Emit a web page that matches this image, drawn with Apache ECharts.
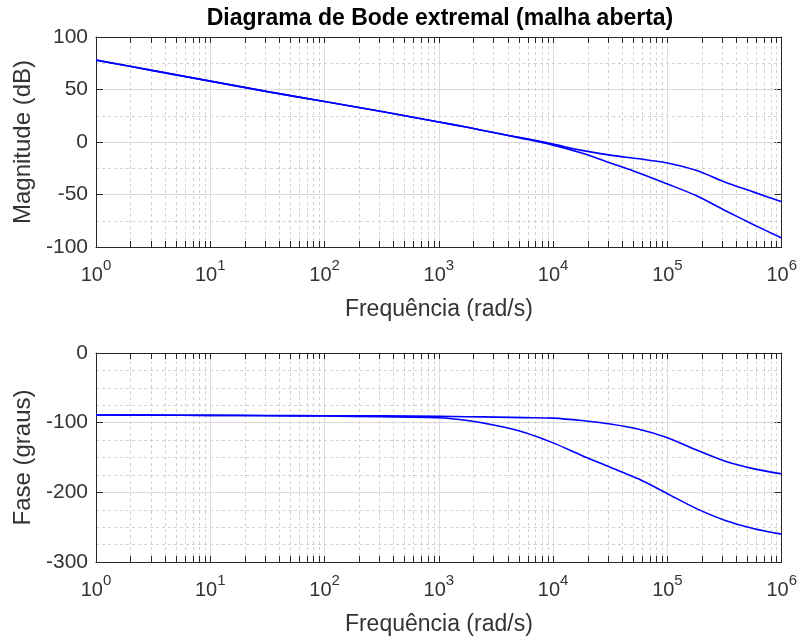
<!DOCTYPE html>
<html>
<head>
<meta charset="utf-8">
<title>Diagrama de Bode extremal</title>
<script src="https://cdn.jsdelivr.net/npm/echarts@6/dist/echarts.min.js"></script>
<style>
  html, body { margin: 0; padding: 0; background: #fff; }
  #chart { width: 800px; height: 639px; }
</style>
</head>
<body>
<div id="chart"></div>
<script>
// frequência em décadas: log10(rad/s)
const logFreq = [0, 0.5, 1, 1.5, 2, 2.5, 3, 3.25, 3.5, 3.75, 4, 4.25, 4.5, 4.75, 5, 5.25, 5.5, 5.75, 6]
// magnitude (dB) das duas curvas extremais
const magUpper = [78, 68, 58, 48, 38.5, 29, 19, 14, 8.5, 3.5, -2, -8, -12.5, -16, -20, -27, -38, -47.5, -57]
const magLower = [78, 68, 58, 48, 38.5, 29, 19, 14, 8.5, 3, -3, -10.5, -20, -29.5, -40, -51, -65, -78.5, -91.5]
// fase (graus)
const phaseUpper = [-89, -89.2, -89.5, -89.7, -90, -90.3, -91, -91.5, -92, -92.7, -93.5, -97, -102, -109.5, -121.5, -139, -155, -166, -173.5]
const phaseLower = [-89, -89.2, -89.5, -90, -90.5, -91.5, -93, -97, -104, -114, -129, -147, -164, -181, -202, -223, -240, -252, -260]
// rótulos do eixo x: 10^0 ... 10^6
const decades = [0, 1, 2, 3, 4, 5, 6]
// subdivisões logarítmicas de cada década
const minorSteps = [2, 3, 4, 5, 6, 7, 8, 9]

const font = 'Liberation Sans, Arial, Helvetica, sans-serif'
const ink = '#262626'
const label = '#333333'
const gridMajor = '#dcdcdc'
const gridMinor = '#d2d2d2'
const lineBlue = '#0000ff'

const minorX = []
decades.slice(0, -1).forEach(d => {
  minorSteps.forEach(k => minorX.push(d + Math.log10(k)))
})

const pairs = (ys) => logFreq.map((x, i) => [x, ys[i]])

// eixos x (inferior com rótulos, superior só com marcas)
function xAxes(gridIndex) {
  const base = {
    type: 'value',
    gridIndex: gridIndex,
    min: decades[0],
    max: decades[decades.length - 1],
    interval: 1,
    axisLine: { show: true, onZero: false, lineStyle: { color: ink, width: 1 } },
    axisTick: { show: true, inside: true, length: 6, lineStyle: { color: ink } }
  }
  return [
    Object.assign({}, base, {
      position: 'bottom',
      name: 'Frequência (rad/s)',
      nameLocation: 'middle',
      nameGap: 51,
      nameTextStyle: { fontFamily: font, fontSize: 23, color: label },
      axisLabel: {
        margin: 11,
        color: label,
        formatter: v => '{b|10}{sup|' + v + '}',
        rich: {
          b: { fontFamily: font, fontSize: 20, lineHeight: 27, verticalAlign: 'bottom', color: label },
          sup: { fontFamily: font, fontSize: 15, lineHeight: 15, verticalAlign: 'top', color: label }
        }
      },
      splitLine: { show: true, lineStyle: { color: gridMajor, width: 1 } }
    }),
    Object.assign({}, base, {
      position: 'top',
      axisLabel: { show: false },
      splitLine: { show: false }
    })
  ]
}

// eixos y (esquerdo com rótulos, direito só com marcas)
function yAxes(gridIndex, min, max, interval, minorSplit, name) {
  const base = {
    type: 'value',
    gridIndex: gridIndex,
    min: min,
    max: max,
    interval: interval,
    axisLine: { show: true, onZero: false, lineStyle: { color: ink, width: 1 } },
    axisTick: { show: true, inside: true, length: 7, lineStyle: { color: ink } }
  }
  return [
    Object.assign({}, base, {
      position: 'left',
      name: name,
      nameLocation: 'middle',
      nameGap: 59,
      nameTextStyle: { fontFamily: font, fontSize: 24, color: label },
      axisLabel: { margin: 8, fontFamily: font, fontSize: 21, color: label },
      splitLine: { show: true, lineStyle: { color: gridMajor, width: 1 } },
      minorTick: { show: false, splitNumber: minorSplit },
      minorSplitLine: { show: true, lineStyle: { color: gridMinor, width: 1, type: [3, 3] } }
    }),
    Object.assign({}, base, {
      position: 'right',
      axisLabel: { show: false },
      splitLine: { show: false }
    })
  ]
}

// grade secundária logarítmica (2..9 de cada década) + marcas nas bordas
function minorGrid(xi, yi, yMin, yMax) {
  return {
    type: 'custom',
    xAxisIndex: xi,
    yAxisIndex: yi,
    silent: true,
    z: 1,
    data: minorX.map(x => [x, yMin, yMax]),
    renderItem: (params, api) => {
      const bot = api.coord([api.value(0), api.value(1)])
      const top = api.coord([api.value(0), api.value(2)])
      const x = Math.round(bot[0]) + 0.5
      return {
        type: 'group',
        children: [
          { type: 'line', shape: { x1: x, y1: bot[1], x2: x, y2: top[1] },
            style: { stroke: gridMinor, lineWidth: 1, lineDash: [3, 3] } },
          { type: 'line', shape: { x1: x, y1: bot[1], x2: x, y2: bot[1] - 6 },
            style: { stroke: ink, lineWidth: 1 } },
          { type: 'line', shape: { x1: x, y1: top[1], x2: x, y2: top[1] + 6 },
            style: { stroke: ink, lineWidth: 1 } }
        ]
      }
    }
  }
}

function curve(xi, yi, ys) {
  return {
    type: 'line',
    xAxisIndex: xi,
    yAxisIndex: yi,
    data: pairs(ys),
    smooth: 0.3,
    showSymbol: false,
    z: 3,
    lineStyle: { color: lineBlue, width: 1.6 }
  }
}

const chart = echarts.init(document.getElementById('chart'))
chart.setOption({
  animation: false,
  backgroundColor: '#ffffff',
  title: {
    text: 'Diagrama de Bode extremal (malha aberta)',
    left: 440,
    top: 7,
    padding: 0,
    textAlign: 'center',
    textStyle: { fontFamily: font, fontSize: 23, fontWeight: 'bold', color: '#000' }
  },
  grid: [
    { left: 96, right: 17, top: 37, height: 210 },
    { left: 96, right: 17, top: 353, height: 209 }
  ],
  xAxis: [].concat(xAxes(0), xAxes(1)),
  yAxis: [].concat(
    yAxes(0, -100, 100, 50, 2, 'Magnitude (dB)'),
    yAxes(1, -300, 0, 100, 4, 'Fase (graus)')
  ),
  series: [
    minorGrid(0, 0, -100, 100),
    minorGrid(2, 2, -300, 0),
    curve(0, 0, magUpper),
    curve(0, 0, magLower),
    curve(2, 2, phaseUpper),
    curve(2, 2, phaseLower)
  ]
})
window.addEventListener('resize', () => chart.resize())
</script>
</body>
</html>
